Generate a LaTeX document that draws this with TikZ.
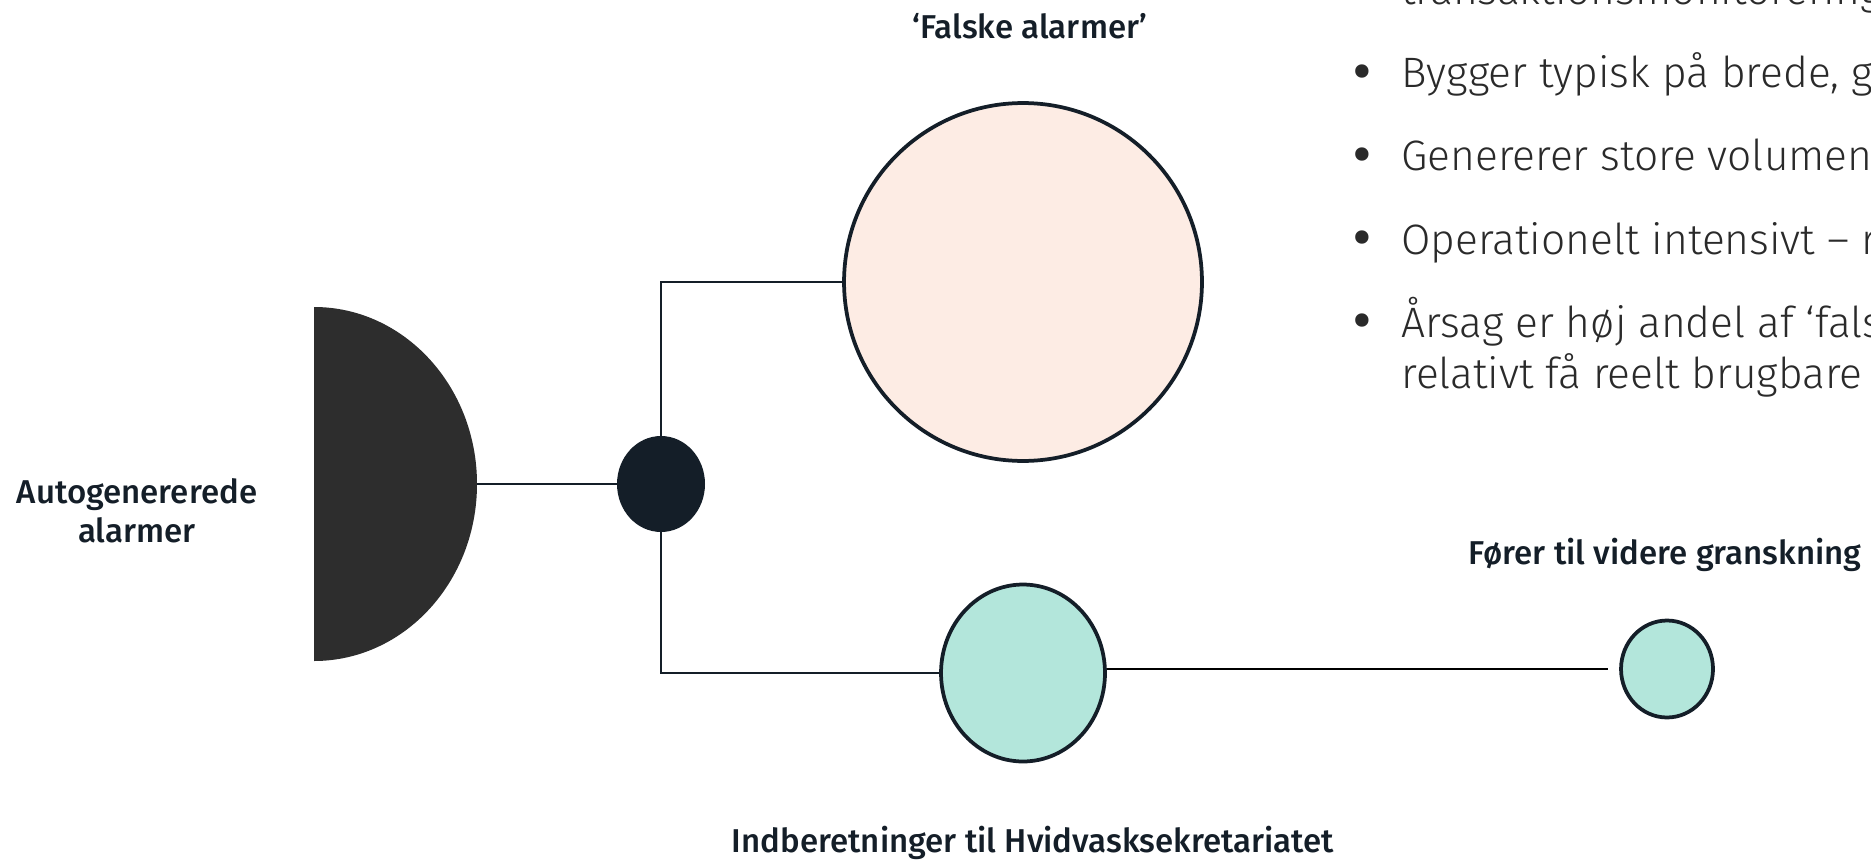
\documentclass[tikz,border=0pt]{standalone}
\usepackage{fontspec}
\setmainfont{Fira Sans}[UprightFont = * Light, BoldFont = * Medium]
\usetikzlibrary{shapes.geometric}

\definecolor{navy}{HTML}{141E28}
\definecolor{coal}{HTML}{2D2D2D}
\definecolor{peach}{HTML}{FDECE4}
\definecolor{mint}{HTML}{B3E6DB}
\definecolor{inktext}{HTML}{2A2A2A}

\tikzset{
  blob/.style = {ellipse, draw = navy, line width = 0.075cm, inner sep = 0pt},
  wire/.style = {draw = navy, line width = 0.04cm},
  caption/.style = {font = \bfseries\fontsize{18.8}{22.2}\selectfont, text = navy,
    align = center, inner sep = 0pt},
  point/.style = {font = \fontsize{24.2}{29}\selectfont, text = inktext, inner sep = 0pt},
  dotmark/.style = {font = \bfseries\fontsize{30}{30}\selectfont, text = inktext, inner sep = 0pt}
}

\begin{document}
\begin{tikzpicture}[x = 0.02cm, y = 0.02cm]
    \useasboundingbox (0, 0) rectangle (1871, 860);
    \clip (0, 0) rectangle (1871, 860);

    % source: half disc
    \fill[coal] (314, 553)
      arc[start angle = 90, end angle = -90, x radius = 163, y radius = 177] -- cycle;
    \coordinate (src) at (477, 376);

    \node[ellipse, fill = navy, inner sep = 0pt,
      minimum width = 1.76cm, minimum height = 1.92cm] (hub) at (661, 376) {};
    \node[blob, fill = peach, minimum width = 7.16cm, minimum height = 7.16cm]
      (fals) at (1023, 578) {};
    \node[blob, fill = mint, minimum width = 3.28cm, minimum height = 3.54cm]
      (indb) at (1023, 187) {};
    \node[blob, fill = mint, minimum width = 1.84cm, minimum height = 1.94cm]
      (gran) at (1667, 191) {};

    \draw[wire] (src) -- (hub.west);
    \draw[wire] (hub.north) |- (fals.west);
    \draw[wire] (hub.south) |- (indb.west);
    \draw[black, line width = 0.03cm]
      (gran.west -| indb.east) -- ([xshift = -0.22cm] gran.west);

    \node[caption, anchor = base] (falslbl) at (1030, 821) {‘Falske alarmer’};
    \node[caption] (srclbl) at (137, 349) {Autogenererede\\alarmer};
    \node[caption, anchor = base] (granlbl) at (1665, 296) {Fører til videre granskning};
    \node[caption, anchor = base] (indblbl) at (1033, 8)
      {Indberetninger til Hvidvasksekretariatet};

    % bullet list, runs off the right edge
    \node[point, anchor = base west] (item0) at (1401, 855) {transaktionsmonitorering};
    \foreach \i/\y/\txt in {1/772/{Bygger typisk på brede, generelle},
                            2/689/{Genererer store volumener},
                            3/606/{Operationelt intensivt – ressourcekrævende},
                            4/523/{Årsag er høj andel af ‘falske alarmer’}} {
      \node[dotmark] (dot\i) at (1362, \y + 11) {•};
      \node[point, anchor = base west] (item\i) at (1401, \y) {\txt};
    }
    \node[point, anchor = base west] (item5) at (1401, 472) {relativt få reelt brugbare};
  \end{tikzpicture}
\end{document}
